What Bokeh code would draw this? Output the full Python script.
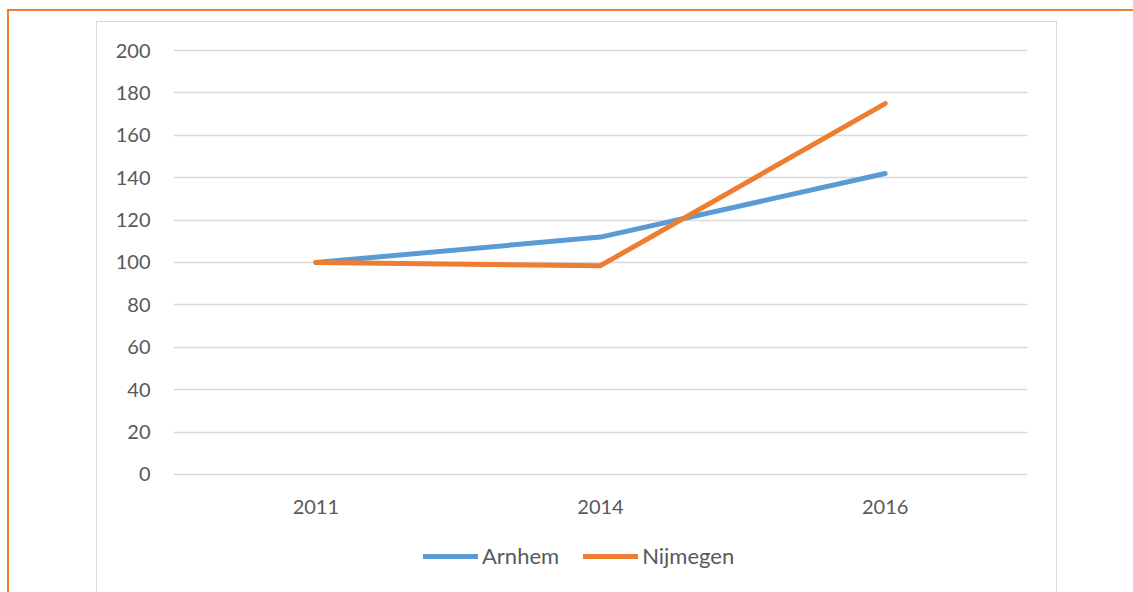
from bokeh.plotting import figure
from bokeh.models import (FactorRange, Range1d, FixedTicker, Legend, LegendItem,
                          ColumnDataSource, InlineStyleSheet)
from bokeh.embed import file_html
from bokeh.resources import INLINE

years = ["2011", "2014", "2016"]
arnhem = [100, 112, 142]
nijmegen = [100, 98.5, 175]
y_ticks = [0, 20, 40, 60, 80, 100, 120, 140, 160, 180, 200]

FONT = "Lato"
TXT = "#595959"

p = figure(width=1133, height=592, output_backend="svg", toolbar_location=None,
           x_range=FactorRange(*years, range_padding=0),
           y_range=Range1d(-55.75, 201),
           min_border_left=173, min_border_right=106,
           min_border_top=48, min_border_bottom=0)
p.outline_line_color = None
p.background_fill_color = "white"
p.border_fill_color = "white"

src = ColumnDataSource(dict(x=years, a=arnhem, n=nijmegen))
r1 = p.line("x", "a", source=src, line_color="#5B9BD5", line_width=5,
            line_cap="round", line_join="round")
r2 = p.line("x", "n", source=src, line_color="#ED7D31", line_width=5,
            line_cap="round", line_join="round")

p.xgrid.grid_line_color = None
p.ygrid.grid_line_color = "#d9d9d9"
p.ygrid.grid_line_width = 1.3

for ax in (p.xaxis[0], p.yaxis[0]):
    ax.axis_line_color = None
    ax.major_tick_line_color = None
    ax.minor_tick_line_color = None
    ax.major_tick_out = 0
    ax.major_tick_in = 0
    ax.major_label_text_font = FONT
    ax.major_label_text_font_size = "20px"
    ax.major_label_text_color = TXT

p.yaxis.ticker = FixedTicker(ticks=y_ticks)
p.yaxis.major_label_standoff = 23
p.xaxis.fixed_location = 0
p.xaxis.major_label_standoff = 26

legend = Legend(items=[LegendItem(label="Arnhem", renderers=[r1]),
                       LegendItem(label="Nijmegen", renderers=[r2])],
                orientation="horizontal", location=(250, 23),
                glyph_width=55, glyph_height=20, label_standoff=4, spacing=24,
                padding=0, margin=0, border_line_color=None,
                background_fill_alpha=0,
                label_text_font=FONT, label_text_font_size="22px",
                label_text_color=TXT)
p.add_layout(legend, "center")

p.stylesheets = [InlineStyleSheet(css="""
:host { position: relative; overflow: hidden; }
:host::before { content: ""; position: absolute; left: 7px; top: 9px;
  width: 1300px; height: 800px; border: 2px solid #ED7D31;
  pointer-events: none; box-sizing: border-box; z-index: 10; }
:host::after { content: ""; position: absolute; left: 96px; top: 21px;
  width: 961px; height: 800px; border: 1px solid #d9d9d9;
  pointer-events: none; box-sizing: border-box; z-index: 10; }
""")]

open("out.html", "w").write(file_html(p, INLINE))
